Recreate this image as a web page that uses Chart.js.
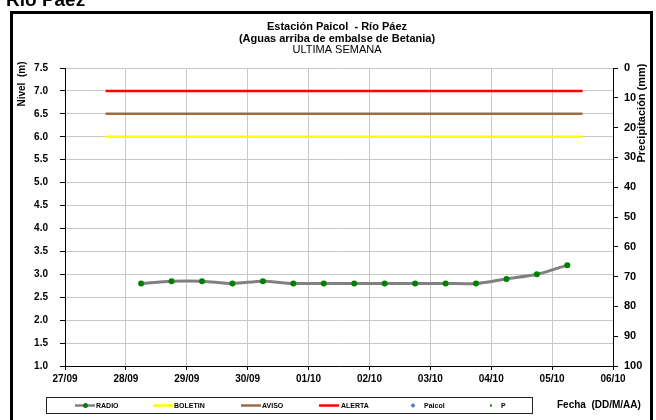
<!DOCTYPE html>
<html>
<head>
<meta charset="utf-8">
<script src="https://cdn.jsdelivr.net/npm/chart.js@4.4.1/dist/chart.umd.min.js"></script>
<style>
  html, body { margin: 0; padding: 0; background: #fff; }
  #wrap { width: 656px; height: 420px; position: relative; }
</style>
</head>
<body>
<div id="wrap"><canvas id="c" width="656" height="420"></canvas></div>
<script>
// ---- data ----
const dateLabels = ['27/09', '28/09', '29/09', '30/09', '01/10', '02/10', '03/10', '04/10', '05/10', '06/10'];
const radioTimes = ['28/09 06:00', '28/09 18:00', '29/09 06:00', '29/09 18:00', '30/09 06:00', '30/09 18:00',
  '01/10 06:00', '01/10 18:00', '02/10 06:00', '02/10 18:00', '03/10 06:00', '03/10 18:00',
  '04/10 06:00', '04/10 18:00', '05/10 06:00'];
const radioValues = [2.8, 2.85, 2.85, 2.8, 2.85, 2.8, 2.8, 2.8, 2.8, 2.8, 2.8, 2.8, 2.9, 3.0, 3.2];
const thresholdTimes = ['27/09 16:00', '05/10 12:00'];
const boletinLevel = 6.0;
const avisoLevel = 6.5;
const alertaLevel = 7.0;
const paicolValues = [];
const precipValues = [];
const seriesNames = ['RADIO', 'BOLETIN', 'AVISO', 'ALERTA', 'Paicol', 'P'];
const titleLines = ['Estación Paicol  - Río Páez', '(Aguas arriba de embalse de Betania)'];
const subtitleText = 'ULTIMA SEMANA';

// days since 27/09 00:00
function dayOffset(s) {
  const [dm, hm] = s.split(' ');
  const [d, m] = dm.split('/').map(Number);
  const [h, mi] = (hm || '00:00').split(':').map(Number);
  const base = m === 9 ? d - 27 : (30 - 27) + d;
  return base + h / 24 + mi / 1440;
}
const radioData = radioTimes.map((t, i) => ({ x: dayOffset(t), y: radioValues[i] }));
const lvl = v => thresholdTimes.map(t => ({ x: dayOffset(t), y: v }));

const BOLD = 'bold 10px "Liberation Sans", Arial, sans-serif';

const decor = {
  id: 'decor',
  beforeDraw(chart) {
    const ctx = chart.ctx;
    ctx.save();
    ctx.fillStyle = '#fff';
    ctx.fillRect(0, 0, chart.width, chart.height);
    ctx.strokeStyle = '#000';
    ctx.lineWidth = 3;
    ctx.strokeRect(11.5, 12.5, 640, 440);
    ctx.restore();
  },
  afterDraw(chart) {
    const ctx = chart.ctx;
    ctx.save();
    ctx.fillStyle = '#000';
    // cut-off header above frame
    ctx.font = 'bold 19px "Liberation Sans", Arial, sans-serif';
    ctx.textAlign = 'left';
    ctx.textBaseline = 'alphabetic';
    ctx.fillText('Río Páez', 6, 6);
    // titles
    ctx.textAlign = 'center';
    ctx.textBaseline = 'middle';
    ctx.font = 'bold 11px "Liberation Sans", Arial, sans-serif';
    ctx.fillText(titleLines[0], 337, 27);
    ctx.fillText(titleLines[1], 337, 38.5);
    ctx.font = '11px "Liberation Sans", Arial, sans-serif';
    ctx.fillText(subtitleText, 337, 50);
    // axis titles
    ctx.font = BOLD;
    ctx.save();
    ctx.translate(22, 84);
    ctx.rotate(-Math.PI / 2);
    ctx.fillText('Nivel  (m)', 0, 0);
    ctx.restore();
    ctx.save();
    ctx.font = 'bold 11px "Liberation Sans", Arial, sans-serif';
    ctx.translate(642, 113);
    ctx.rotate(-Math.PI / 2);
    ctx.fillText('Precipitación (mm)', 0, 0);
    ctx.restore();
    ctx.textAlign = 'left';
    ctx.fillText('Fecha  (DD/M/AA)', 557, 405);
    // legend box
    ctx.strokeStyle = '#222';
    ctx.lineWidth = 1;
    ctx.strokeRect(46.5, 397.5, 486, 16);
    const ly = 405.5;
    const items = [
      { x: 75, kind: 'line', color: '#808080', dot: '#008000' },
      { x: 153, kind: 'line', color: '#ffff00' },
      { x: 241, kind: 'line', color: '#9c6b43' },
      { x: 319, kind: 'line', color: '#ff0000' },
      { x: 407, kind: 'diamond', color: '#4f81bd' },
      { x: 486, kind: 'square', color: '#008000' }
    ];
    const textX = [96, 174, 262, 341, 424, 501];
    ctx.font = 'bold 7px "Liberation Sans", Arial, sans-serif';
    items.forEach((it, i) => {
      if (it.kind === 'line') {
        ctx.strokeStyle = it.color;
        ctx.lineWidth = 2.5;
        ctx.beginPath();
        ctx.moveTo(it.x, ly);
        ctx.lineTo(it.x + 20, ly);
        ctx.stroke();
        if (it.dot) {
          ctx.fillStyle = it.dot;
          ctx.beginPath();
          ctx.arc(it.x + 10.5, ly, 2.5, 0, Math.PI * 2);
          ctx.fill();
        }
      } else if (it.kind === 'diamond') {
        ctx.fillStyle = it.color;
        ctx.beginPath();
        ctx.moveTo(it.x + 6, ly - 2.5);
        ctx.lineTo(it.x + 8.5, ly);
        ctx.lineTo(it.x + 6, ly + 2.5);
        ctx.lineTo(it.x + 3.5, ly);
        ctx.closePath();
        ctx.fill();
      } else {
        ctx.fillStyle = it.color;
        ctx.fillRect(it.x + 4, ly - 1, 2, 2);
      }
      ctx.fillStyle = '#000';
      ctx.textAlign = 'left';
      ctx.textBaseline = 'middle';
      ctx.fillText(seriesNames[i], textX[i], ly + 0.5);
    });
    ctx.restore();
  }
};

new Chart(document.getElementById('c'), {
  type: 'line',
  data: {
    datasets: [
      { label: seriesNames[0], data: radioData, borderColor: '#808080', borderWidth: 3, tension: 0.3,
        pointRadius: 3, pointBackgroundColor: '#008000', pointBorderColor: '#008000', pointBorderWidth: 0, yAxisID: 'y', order: 0 },
      { label: seriesNames[1], data: lvl(boletinLevel), borderColor: '#ffff00', borderWidth: 2.5, pointRadius: 0, yAxisID: 'y', order: 1 },
      { label: seriesNames[2], data: lvl(avisoLevel), borderColor: '#9c6b43', borderWidth: 2.5, pointRadius: 0, yAxisID: 'y', order: 1 },
      { label: seriesNames[3], data: lvl(alertaLevel), borderColor: '#ff0000', borderWidth: 2.5, pointRadius: 0, yAxisID: 'y', order: 1 },
      { label: seriesNames[4], data: paicolValues, borderColor: '#4f81bd', showLine: false, pointStyle: 'rectRot', yAxisID: 'y' },
      { label: seriesNames[5], data: precipValues, borderColor: '#008000', showLine: false, pointStyle: 'rect', yAxisID: 'y2' }
    ]
  },
  options: {
    responsive: false,
    animation: false,
    devicePixelRatio: 1,
    layout: { padding: { left: 10, right: 0, top: 68, bottom: 24 } },
    plugins: { legend: { display: false }, title: { display: false }, tooltip: { enabled: false } },
    scales: {
      x: {
        type: 'linear', min: 0, max: 9,
        afterFit(s) { s.height = 30; },
        ticks: { stepSize: 1, autoSkip: false, maxRotation: 0, padding: 3, color: '#000', font: { family: '"Liberation Sans", Arial', size: 10, weight: 'bold' },
          callback: v => dateLabels[v] },
        grid: { color: '#c8c8c8', lineWidth: 1, tickColor: '#000', tickLength: 4 },
        border: { color: '#000', width: 1 }
      },
      y: {
        position: 'left', min: 1, max: 7.5,
        afterFit(s) { s.width = 55; },
        ticks: { stepSize: 0.5, padding: 12, color: '#000', font: { family: '"Liberation Sans", Arial', size: 10, weight: 'bold' },
          callback: v => Number(v).toFixed(1) },
        grid: { color: '#c8c8c8', lineWidth: 1, tickColor: '#000', tickLength: 5 },
        border: { color: '#000', width: 1 }
      },
      y2: {
        position: 'right', min: 0, max: 100, reverse: true,
        afterFit(s) { s.width = 43; },
        ticks: { stepSize: 10, padding: 6, color: '#000', font: { family: '"Liberation Sans", Arial', size: 11, weight: 'bold' } },
        grid: { drawOnChartArea: false, tickColor: '#000', tickLength: 5 },
        border: { color: '#000', width: 1 }
      }
    }
  },
  plugins: [decor]
});
</script>
</body>
</html>
